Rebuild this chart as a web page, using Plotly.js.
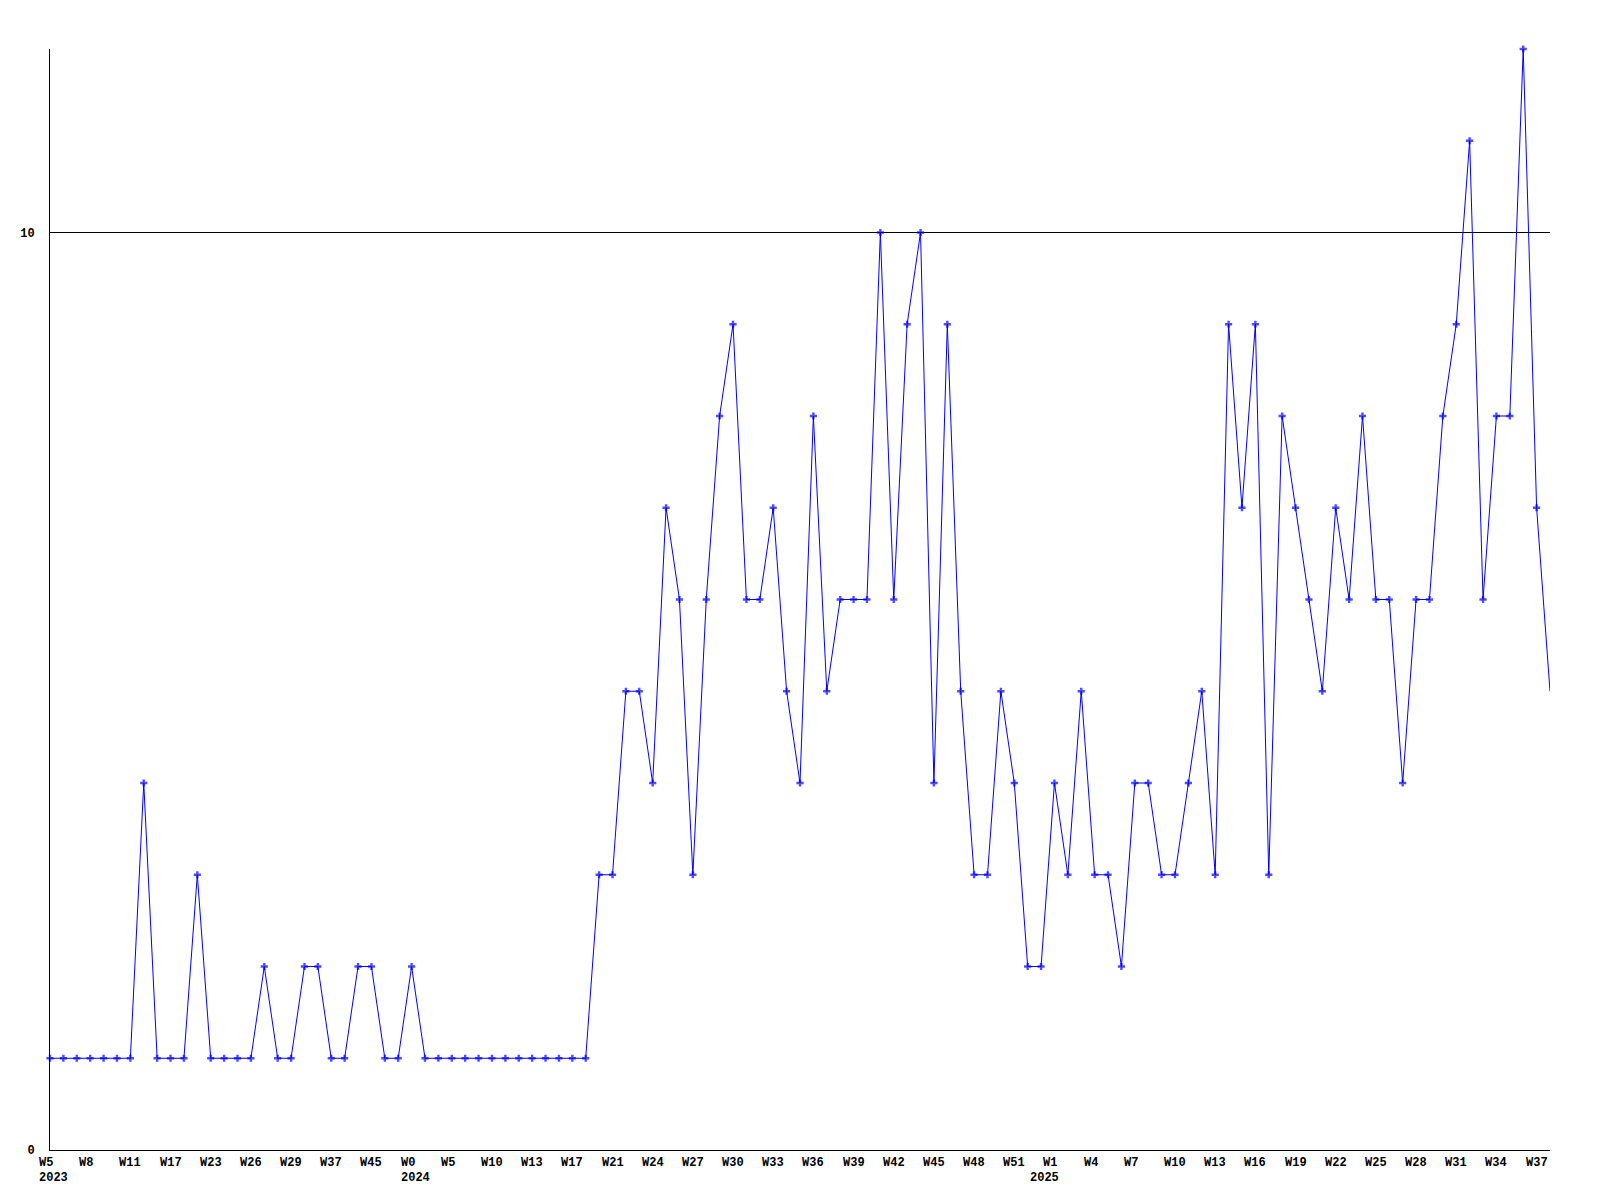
<!DOCTYPE html>
<html>
<head>
<meta charset="utf-8">
<script src="https://cdn.plot.ly/plotly-3.0.1.min.js"></script>
<style>html,body{margin:0;padding:0;background:#fff;}#chart{width:1600px;height:1200px;}</style>
</head>
<body>
<div id="chart"></div>
<script>
// Weekly counts (one value per point)
const values = [
  1,1,1,1,1,1,1,4,1,1,1,3,1,1,1,1,2,1,1,2,2,1,1,2,2,1,1,2,
  1,1,1,1,1,1,1,1,1,1,1,1,1,
  3,3,5,5,4,7,6,3,6,8,9,6,6,7,5,4,8,5,6,6,6,10,6,9,10,4,9,5,3,3,5,4,
  2,2,4,3,5,3,3,2,4,4,3,3,4,5,3,9,7,9,3,8,7,6,5,7,6,8,6,6,4,6,6,8,9,11,6,8,8,12,7,5
];
// Labelled ticks: point index and week label
const tickIndex = [0,3,6,9,12,15,18,21,24,27,30,33,36,39,42,45,48,51,54,57,60,63,66,69,72,75,78,81,84,87,90,93,96,99,102,105,108,111];
const tickWeeks = ["W5","W8","W11","W17","W23","W26","W29","W37","W45","W0","W5","W10","W13","W17","W21","W24","W27","W30","W33","W36","W39","W42","W45","W48","W51","W1","W4","W7","W10","W13","W16","W19","W22","W25","W28","W31","W34","W37"];
// Year labels: first point of each year
const yearIndex = [0, 27, 74];
const yearLabels = ["2023", "2024", "2025"];
const yTicks = [0, 10];

const fontFam = '"Liberation Mono", "DejaVu Sans Mono", monospace';
const labelFont = {family: fontFam, size: 12, color: '#000', weight: 'bold'};

const trace = {
  y: values,
  type: 'scatter',
  mode: 'lines+markers',
  line: {color: '#0000ff', width: 1},
  marker: {color: '#0000ff', symbol: 'cross', size: values.map((v, i) => i === values.length - 1 ? 0 : 6), line: {width: 0}},
  hoverinfo: 'y',
  cliponaxis: false
};

const weekAnn = tickIndex.map((ix, k) => ({
  x: ix, xref: 'x', y: 0, yref: 'paper',
  text: tickWeeks[k],
  showarrow: false, xanchor: 'left', yanchor: 'top', align: 'left',
  xshift: -13, yshift: -4,
  font: labelFont
}));
const yearAnn = yearIndex.map((ix, k) => ({
  x: ix, xref: 'x', y: 0, yref: 'paper',
  text: yearLabels[k],
  showarrow: false, xanchor: 'left', yanchor: 'top', align: 'left',
  xshift: -13, yshift: -19,
  font: labelFont
}));

const layout = {
  width: 1600, height: 1200,
  margin: {l: 50, r: 50, t: 49, b: 50},
  paper_bgcolor: '#fff', plot_bgcolor: '#fff',
  showlegend: false,
  xaxis: {
    range: [0, values.length - 1],
    showgrid: false, zeroline: false,
    showline: true, linecolor: '#000', linewidth: 1,
    showticklabels: false, ticks: ''
  },
  yaxis: {
    range: [0, 12],
    tickvals: yTicks, ticktext: yTicks.map(String),
    showgrid: true, gridcolor: '#000', gridwidth: 1,
    zeroline: false,
    showline: true, linecolor: '#000', linewidth: 1,
    ticks: '', ticklabelstandoff: 12,
    tickfont: labelFont
  },
  annotations: weekAnn.concat(yearAnn)
};

Plotly.newPlot('chart', [trace], layout, {displayModeBar: false, staticPlot: true});
</script>
</body>
</html>
